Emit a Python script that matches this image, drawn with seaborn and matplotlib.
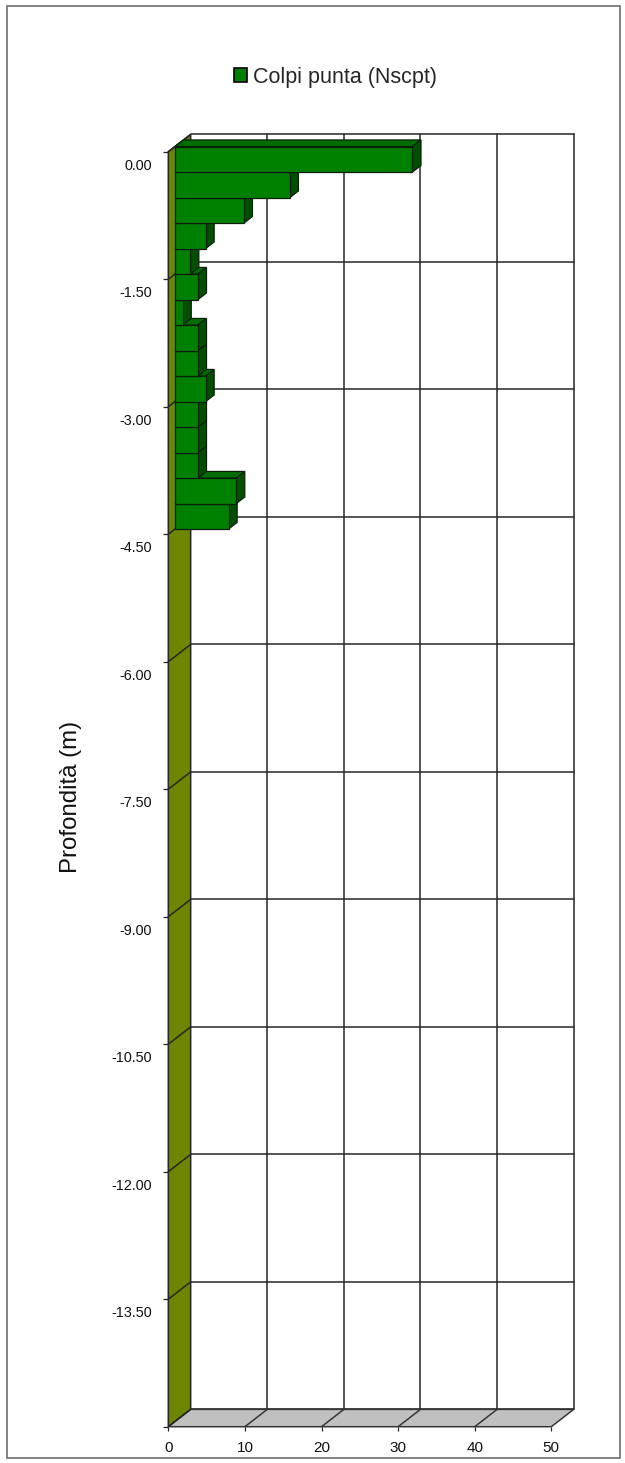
import matplotlib
matplotlib.use("Agg")
import matplotlib.pyplot as plt
from matplotlib.patches import Polygon, Rectangle
from matplotlib.transforms import Affine2D
import seaborn as sns

# Penetrometer log: blow counts for each 0.30 m step
profondita = [0.00, -0.30, -0.60, -0.90, -1.20, -1.50, -1.80, -2.10,
              -2.40, -2.70, -3.00, -3.30, -3.60, -3.90, -4.20]
colpi_punta = [31, 15, 9, 4, 2, 3, 1, 3, 3, 4, 3, 3, 3, 8, 7]

# Depth axis labels (every fifth step) and blow-count ticks
valori_prof = [0.0, -1.5, -3.0, -4.5, -6.0, -7.5, -9.0, -10.5, -12.0, -13.5]
etichette_prof = ["0.00", "-1.50", "-3.00", "-4.50", "-6.00", "-7.50",
                  "-9.00", "-10.50", "-12.00", "-13.50"]
tick_colpi = [0, 10, 20, 30, 40, 50]

serie = "Colpi punta (Nscpt)"
titolo_y = "Profondità (m)"

# Pseudo-3D geometry (data units)
STEP = 0.30            # depth step of each category
N_CAT = 50             # categories shown on the depth axis
X_MAX = 50
DX, DY = 2.92, 0.204   # oblique offset of the back plane
F_FRONT, F_BACK = 0.30, 0.68   # bar slab position inside the depth

TOP = STEP / 2
BOTTOM = TOP - N_CAT * STEP

C_BAR = "#008000"
C_BAR_TOP = "#006E00"
C_BAR_SIDE = "#005000"
C_EDGE_BAR = "#0a200a"
C_WALL = "#6C8600"
C_FLOOR = "#C0C0C0"
C_GRID = "#262626"

sns.set_style("white")
plt.rcParams["font.family"] = ["Liberation Sans", "DejaVu Sans"]

W, H = 625, 1463
fig = plt.figure(figsize=(W / 100, H / 100), dpi=100)
ax = fig.add_axes([168.3 / W, (H - 1426.7) / H, 405.4 / W, (1426.7 - 134.4) / H])

# Bars (front faces) through seaborn on a native numeric depth scale
sns.barplot(x=colpi_punta, y=profondita, orient="h", native_scale=True,
            width=1.0, color=C_BAR, saturation=1, edgecolor=C_EDGE_BAR,
            linewidth=0.9, errorbar=None, ax=ax)
bars = list(ax.patches)

ax.set_xlim(0, X_MAX + DX)
ax.set_ylim(BOTTOM, TOP + DY)
for s in ax.spines.values():
    s.set_visible(False)

grid_kw = dict(color=C_GRID, lw=1.1, clip_on=False, zorder=2)

# Back wall with gridlines
ax.add_patch(Rectangle((DX, BOTTOM + DY), X_MAX, N_CAT * STEP,
                       facecolor="white", edgecolor="none", zorder=1, clip_on=False))
for t in tick_colpi[1:]:
    ax.plot([t + DX, t + DX], [BOTTOM + DY, TOP + DY], **grid_kw)
bounds = [TOP - k * 5 * STEP for k in range(N_CAT // 5 + 1)]
for b in bounds:
    ax.plot([DX, DX + X_MAX], [b + DY, b + DY], **grid_kw)

# Left side wall
ax.add_patch(Polygon([(0, TOP), (DX, TOP + DY), (DX, BOTTOM + DY), (0, BOTTOM)],
                     closed=True, facecolor=C_WALL, edgecolor=C_GRID, lw=1.1,
                     zorder=3, clip_on=False))
for b in bounds:
    ax.plot([0, DX], [b, b + DY], color=C_GRID, lw=1.1, clip_on=False, zorder=3.5)

# Floor
ax.add_patch(Polygon([(0, BOTTOM), (X_MAX, BOTTOM), (X_MAX + DX, BOTTOM + DY),
                      (DX, BOTTOM + DY)], closed=True, facecolor=C_FLOOR,
                     edgecolor="#353535", lw=1.1, zorder=3, clip_on=False))
for t in tick_colpi[1:-1]:
    ax.plot([t, t + DX], [BOTTOM, BOTTOM + DY], color="#353535", lw=1.1,
            clip_on=False, zorder=3.5)

# Extrude every bar: top and right faces, stacked from the deepest bar up
ox1, oy1 = F_FRONT * DX, F_FRONT * DY
ox2, oy2 = F_BACK * DX, F_BACK * DY
shift = Affine2D().translate(ox1, oy1) + ax.transData
order = sorted(range(len(bars)), key=lambda i: bars[i].get_y())
for rank, i in enumerate(order):
    p = bars[i]
    w, y0, h = p.get_width(), p.get_y(), p.get_height()
    z = 10 + rank * 0.1
    top_face = Polygon([(ox1, y0 + h + oy1), (w + ox1, y0 + h + oy1),
                        (w + ox2, y0 + h + oy2), (ox2, y0 + h + oy2)],
                       closed=True, facecolor=C_BAR_TOP, edgecolor=C_EDGE_BAR,
                       lw=0.9, zorder=z, clip_on=False)
    side_face = Polygon([(w + ox1, y0 + oy1), (w + ox1, y0 + h + oy1),
                         (w + ox2, y0 + h + oy2), (w + ox2, y0 + oy2)],
                        closed=True, facecolor=C_BAR_SIDE, edgecolor=C_EDGE_BAR,
                        lw=0.9, zorder=z + 0.01, clip_on=False)
    ax.add_patch(top_face)
    ax.add_patch(side_face)
    p.set_transform(shift)
    p.set_zorder(z + 0.02)
    p.set_clip_on(False)

# Axes ticks
ax.set_yticks(valori_prof, labels=etichette_prof)
ax.set_yticks(bounds, minor=True)
ax.tick_params(axis="y", which="major", length=0, pad=12, labelsize=10.4,
               labelcolor="#111111")
ax.tick_params(axis="y", which="minor", length=3.5, width=0.9, color=C_GRID,
               direction="out", left=True)
ax.set_xticks(tick_colpi)
ax.tick_params(axis="x", which="major", length=2.8, width=0.9, color=C_GRID,
               direction="out", pad=7.5, labelsize=11, labelcolor="#111111",
               bottom=True)
ax.set_xlabel("")
ax.set_ylabel(titolo_y, fontsize=17.3, color="#111111")
ax.yaxis.set_label_coords(-0.2125, 0.4875)

# Legend at the top
handle = Rectangle((0, 0), 1, 1, facecolor=C_BAR, edgecolor="black", lw=1.2)
fig.legend([handle], [serie], loc="center", bbox_to_anchor=(0.5368, 1 - 77 / H),
           frameon=False, fontsize=15.5, handlelength=0.62, handleheight=0.62,
           handletextpad=0.25, borderpad=0, borderaxespad=0)

# Chart area border
fig.patches.append(Rectangle((6.5 / W, 1 - 1458 / H), (620 - 6.5) / W,
                             (1458 - 5.7) / H, transform=fig.transFigure,
                             fill=False, edgecolor="#6d6d6d", lw=1.2))

fig.savefig("out.png", dpi=100, facecolor="white")
